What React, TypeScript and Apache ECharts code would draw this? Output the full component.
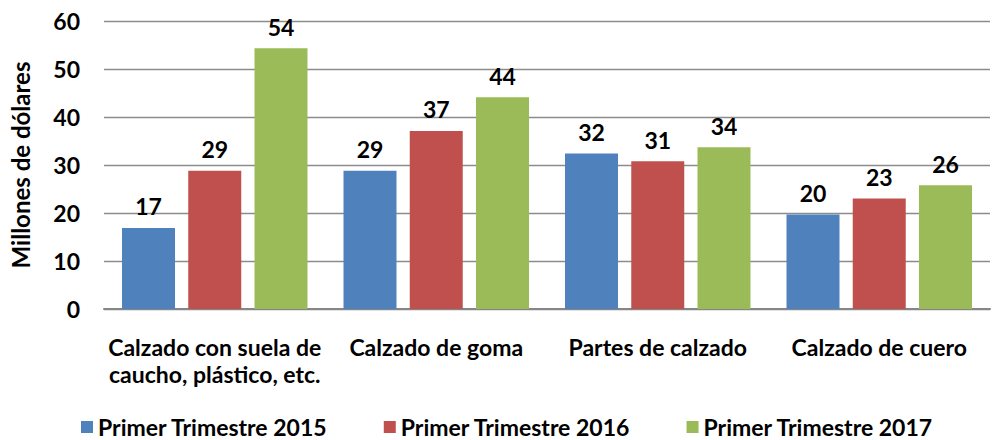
import React, { useEffect, useRef } from "react";
import * as echarts from "echarts";

const categories = [
  "Calzado con suela de\ncaucho, plástico, etc.",
  "Calzado de goma",
  "Partes de calzado",
  "Calzado de cuero",
];
const seriesNames = ["Primer Trimestre 2015", "Primer Trimestre 2016", "Primer Trimestre 2017"];
const values2015 = [16.9, 28.8, 32.4, 19.7];
const values2016 = [28.8, 37.1, 30.8, 23.0];
const values2017 = [54.3, 44.1, 33.7, 25.8];
const seriesColors = ["#4F81BD", "#C0504D", "#9BBB59"];
const yTicks = { min: 0, max: 60, interval: 10 };
const yAxisName = "Millones de dólares";

const FONT = "Lato";
const FS = 23;

export default function App() {
  const ref = useRef<HTMLDivElement>(null);
  useEffect(() => {
    if (!ref.current) return;
    const chart = echarts.init(ref.current, null, { renderer: "svg" });
    const data = [values2015, values2016, values2017];
    chart.setOption({
      animation: false,
      textStyle: { fontFamily: FONT },
      grid: { left: 102, right: 2, top: 21, bottom: 131 },
      legend: {
        top: 410,
        left: 76,
        itemWidth: 12,
        itemHeight: 12,
        itemGap: 56,
        icon: "rect",
        textStyle: {
          fontFamily: FONT,
          fontWeight: "bold",
          fontSize: FS,
          lineHeight: 24,
          color: "#000",
        },
        data: seriesNames,
      },
      xAxis: {
        type: "category",
        data: categories,
        axisLine: { lineStyle: { color: "#868686", width: 2 } },
        axisTick: { show: false },
        axisLabel: {
          fontFamily: FONT,
          fontWeight: "bold",
          fontSize: FS,
          color: "#000",
          margin: 24,
          lineHeight: 27,
          interval: 0,
        },
      },
      yAxis: {
        type: "value",
        min: yTicks.min,
        max: yTicks.max,
        interval: yTicks.interval,
        name: yAxisName,
        nameLocation: "middle",
        nameGap: 72,
        nameTextStyle: { fontFamily: FONT, fontWeight: "bold", fontSize: 24, color: "#000" },
        axisLine: { show: false },
        axisTick: { show: false },
        axisLabel: { fontFamily: FONT, fontWeight: "bold", fontSize: FS, color: "#000", margin: 24 },
        splitLine: { lineStyle: { color: "#8c8c8c", width: 1.3 } },
      },
      series: seriesNames.map((name, i) => ({
        name,
        type: "bar",
        data: data[i],
        barWidth: 53,
        barGap: "25%",
        itemStyle: { color: seriesColors[i] },
        label: {
          show: true,
          position: "top",
          distance: 10,
          fontFamily: FONT,
          fontWeight: "bold",
          fontSize: FS,
          color: "#000",
          formatter: (p: any) => Math.round(p.value).toString(),
        },
      })),
    });
    return () => chart.dispose();
  }, []);
  return (
    <div
      ref={ref}
      style={{ position: "absolute", left: 0, top: 0, width: 992, height: 440, background: "#fff" }}
    />
  );
}
